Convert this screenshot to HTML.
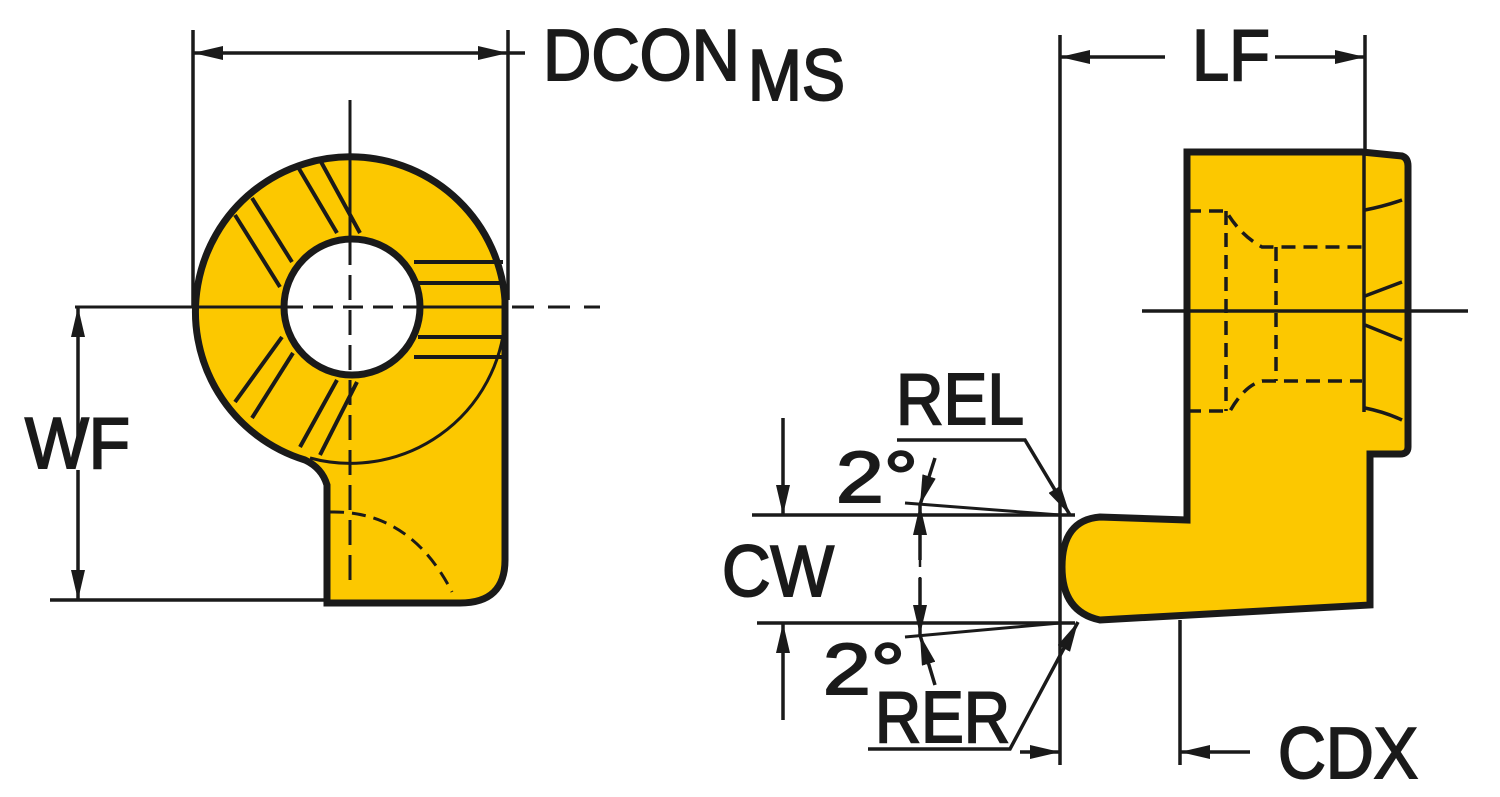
<!DOCTYPE html>
<html><head><meta charset="utf-8"><style>html,body{margin:0;padding:0;background:#fff}svg{display:block}</style></head>
<body>
<svg width="1500" height="797" viewBox="0 0 1500 797" xmlns="http://www.w3.org/2000/svg" font-family="Liberation Sans, sans-serif" fill="#1a1a1a">
<defs>
<marker id="a" viewBox="0 0 30 14" refX="30" refY="7" markerWidth="30" markerHeight="14" markerUnits="userSpaceOnUse" orient="auto"><path d="M0,0 L30,7 L0,14 Z" fill="#1a1a1a"/></marker>
<marker id="s" viewBox="0 0 18 10" refX="18" refY="5" markerWidth="18" markerHeight="10" markerUnits="userSpaceOnUse" orient="auto"><path d="M0,0 L18,5 L0,10 Z" fill="#1a1a1a"/></marker>
</defs>
<g stroke="#1a1a1a" fill="none" stroke-width="3.5">
<!-- LEFT: DCON -->
<line x1="193" y1="30" x2="193" y2="307"/>
<line x1="508" y1="30" x2="508" y2="300"/>
<line x1="225" y1="53" x2="193" y2="53" marker-end="url(#a)"/>
<line x1="225" y1="53" x2="508" y2="53" marker-end="url(#a)"/>
<line x1="508" y1="53" x2="525" y2="53"/>
<!-- body -->
<path d="M327,603 L327,485 Q322,468 305,460 A155,155 0 1 1 505,300 L505,560 Q505,603 460,603 Z" fill="#fcc800" stroke-width="7"/>
<path d="M310,458 A155,155 0 0 0 505,320" stroke-width="3"/>
<circle cx="352" cy="307" r="68" fill="#fff" stroke-width="7"/>
<g stroke-width="4">
<line x1="298" y1="167" x2="337" y2="233"/><line x1="320" y1="160" x2="360" y2="233"/>
<line x1="235" y1="215" x2="280" y2="287"/><line x1="252" y1="198" x2="292" y2="262"/>
<line x1="414" y1="262" x2="503" y2="262"/><line x1="418" y1="283" x2="503" y2="283"/>
<line x1="418" y1="337" x2="503" y2="337"/><line x1="414" y1="357" x2="503" y2="357"/>
<line x1="235" y1="402" x2="282" y2="337"/><line x1="252" y1="418" x2="293" y2="353"/>
<line x1="300" y1="447" x2="337" y2="380"/><line x1="320" y1="455" x2="357" y2="382"/>
</g>
<line x1="350" y1="100" x2="350" y2="240" stroke-width="3"/>
<line x1="350" y1="240" x2="350" y2="590" stroke-width="3" stroke-dasharray="25,10"/>
<line x1="75" y1="307" x2="283" y2="307" stroke-width="3"/>
<line x1="283" y1="307" x2="420" y2="307" stroke-width="3" stroke-dasharray="20,10"/>
<line x1="420" y1="307" x2="505" y2="307" stroke-width="3"/>
<line x1="512" y1="307" x2="600" y2="307" stroke-width="3" stroke-dasharray="22,14"/>
<path d="M330,512 Q410,510 452,592" stroke-width="3" stroke-dasharray="14,8"/>
<!-- WF -->
<line x1="50" y1="600" x2="327" y2="600"/>
<line x1="78" y1="450" x2="78" y2="307" marker-end="url(#a)"/>
<line x1="78" y1="470" x2="78" y2="600" marker-end="url(#a)"/>

<!-- RIGHT body -->
<path d="M1187,152 L1362,152 L1402,156 Q1408,158 1408,166 L1408,447 Q1408,454 1400,454 L1370,454 L1370,605 L1100,620 Q1062,612 1062,567 Q1062,520 1100,517 L1187,520 Z" fill="#fcc800" stroke-width="7"/>
<line x1="1364" y1="152" x2="1364" y2="412" stroke-width="3.5"/>
<path d="M1365,210 Q1385,206 1402,200" stroke-width="3.5"/>
<path d="M1365,296 L1402,282" stroke-width="3.5"/>
<path d="M1365,325 L1402,340" stroke-width="3.5"/>
<path d="M1365,408 Q1385,412 1402,420" stroke-width="3.5"/>
<g stroke-dasharray="14,8" stroke-width="3.5">
<path d="M1187,211 L1226,211 Q1240,235 1262,247 L1362,247"/>
<path d="M1187,411 L1230,411 Q1245,385 1262,381 L1362,381"/>
<line x1="1226" y1="211" x2="1226" y2="411"/>
<line x1="1276" y1="247" x2="1276" y2="381"/>
</g>
<line x1="1142" y1="311" x2="1468" y2="311" stroke-width="3.5"/>
<!-- LF -->
<line x1="1060" y1="35" x2="1060" y2="765"/>
<line x1="1365" y1="35" x2="1365" y2="152"/>
<line x1="1165" y1="57" x2="1060" y2="57" marker-end="url(#a)"/>
<line x1="1275" y1="57" x2="1365" y2="57" marker-end="url(#a)"/>
<!-- CDX -->
<line x1="1180" y1="620" x2="1180" y2="765"/>
<line x1="1250" y1="752" x2="1180" y2="752" marker-end="url(#a)"/>
<line x1="1020" y1="752" x2="1060" y2="752" marker-end="url(#a)"/>
<!-- CW -->
<line x1="752" y1="515" x2="1075" y2="515"/>
<line x1="757" y1="623" x2="1075" y2="623"/>
<line x1="783" y1="418" x2="783" y2="515" marker-end="url(#a)"/>
<line x1="783" y1="720" x2="783" y2="623" marker-end="url(#a)"/>
<line x1="905" y1="503" x2="1060" y2="515" stroke-width="3"/>
<line x1="905" y1="637" x2="1060" y2="623" stroke-width="3"/>
<line x1="935" y1="458" x2="920" y2="505" marker-end="url(#a)"/>
<line x1="920" y1="560" x2="920" y2="505" marker-end="url(#a)"/>
<line x1="920" y1="578" x2="920" y2="635" marker-end="url(#a)"/>
<line x1="935" y1="685" x2="920" y2="635" marker-end="url(#a)"/>
<line x1="920" y1="505" x2="920" y2="635" stroke-width="2.5" stroke-dasharray="8,10"/>
<!-- REL / RER leaders -->
<path d="M897,440 L1025,440 L1070,515" stroke-width="3.5" marker-end="url(#a)"/>
<path d="M868,749 L1010,749 L1078,622" stroke-width="3.5" marker-end="url(#a)"/>
</g>
<g font-size="72" stroke="#1a1a1a" stroke-width="2">
<text x="543" y="80" textLength="197" lengthAdjust="spacingAndGlyphs">DCON</text>
<text x="748" y="100" textLength="97" lengthAdjust="spacingAndGlyphs">MS</text>
<text x="25" y="468" textLength="105" lengthAdjust="spacingAndGlyphs">WF</text>
<text x="1192" y="80" textLength="78" lengthAdjust="spacingAndGlyphs">LF</text>
<text x="1278" y="778" textLength="140" lengthAdjust="spacingAndGlyphs">CDX</text>
<text x="722" y="596" textLength="112" lengthAdjust="spacingAndGlyphs">CW</text>
<text x="836" y="502" textLength="82" lengthAdjust="spacingAndGlyphs">2°</text>
<text x="823" y="694" textLength="82" lengthAdjust="spacingAndGlyphs">2°</text>
<text x="896" y="424" textLength="128" lengthAdjust="spacingAndGlyphs">REL</text>
<text x="875" y="742" textLength="135" lengthAdjust="spacingAndGlyphs">RER</text>
</g>
</svg>
</body></html>
